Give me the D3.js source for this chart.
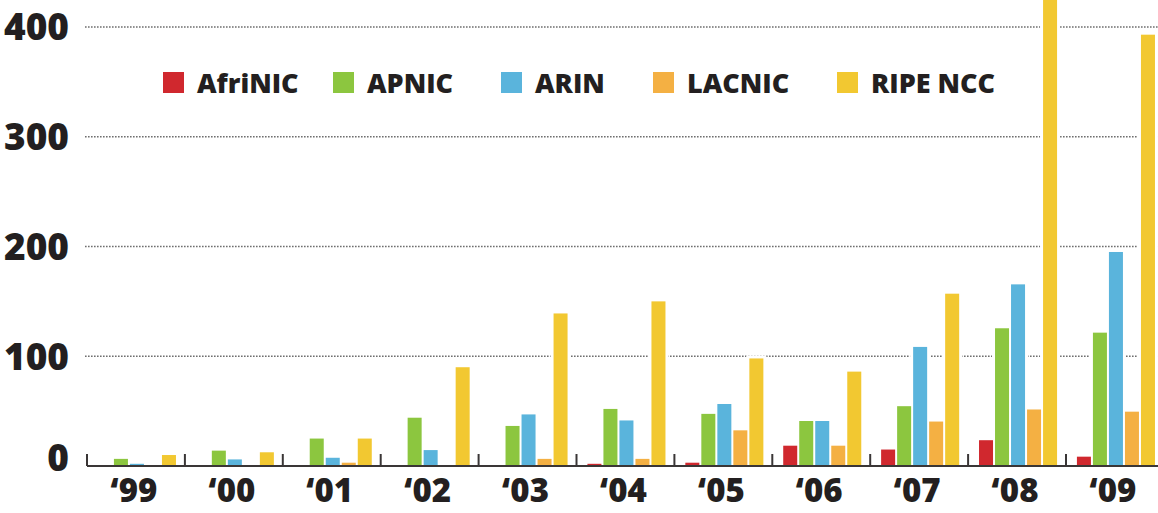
<!DOCTYPE html>
<html>
<head>
<meta charset="utf-8">
<script src="https://cdn.jsdelivr.net/npm/d3@7"></script>
<style>
  html, body { margin: 0; padding: 0; background: #fff; }
  svg { display: block; }
  text { font-family: "Open Sans", "DejaVu Sans", sans-serif; font-weight: 800; fill: #231f20; }
</style>
</head>
<body>
<svg id="chart" width="1158" height="513"></svg>
<script>
// ---- data ----
const years = ["‘99", "‘00", "‘01", "‘02", "‘03", "‘04", "‘05", "‘06", "‘07", "‘08", "‘09"];
const series = ["AfriNIC", "APNIC", "ARIN", "LACNIC", "RIPE NCC"];
const afrinic = [0, 0, 0, 0.6, 0.6, 2, 3, 18.5, 15, 23.5, 8.5];
const apnic   = [6.5, 14, 25, 44, 36.5, 52, 47.5, 41, 54.5, 125.5, 121.5];
const arin    = [2, 6, 7.5, 14.5, 47, 41.5, 56.5, 41, 108.5, 165.5, 195];
const lacnic  = [0.6, 0.6, 3, 0, 6.5, 6.5, 32.5, 18.5, 40.5, 51.5, 49.5];
const ripe    = [10, 12.5, 25, 90, 139, 150, 98, 86, 157, 445, 393];
const yTicks  = [0, 100, 200, 300, 400];
const colors  = ["#d0282e", "#8cc63f", "#5ab4dc", "#f4b043", "#f2c831"];

const valuesBySeries = [afrinic, apnic, arin, lacnic, ripe];

// ---- layout ----
const svg = d3.select("#chart");
const x0 = 87, groupW = 97.9;
const x = d3.scaleBand().domain(years).range([x0, x0 + groupW * years.length]).padding(0);
const xs = d3.scaleBand().domain(series).range([0, x.bandwidth()]).paddingInner(0.125).paddingOuter(0.62).align(0.55);
const y = d3.scaleLinear().domain([0, 400]).range([466, 27]);
const color = d3.scaleOrdinal().domain(series).range(colors);

// gridlines
svg.append("g").selectAll("line")
  .data(yTicks.filter(d => d > 0))
  .join("line")
  .attr("x1", 85).attr("x2", 1158)
  .attr("y1", d => y(d)).attr("y2", d => y(d))
  .attr("stroke", "#6f6f6f").attr("stroke-width", 1.6)
  .attr("stroke-dasharray", "1.6,1.4");

// y labels
svg.append("g").selectAll("text")
  .data(yTicks)
  .join("text")
  .attr("x", 69)
  .attr("y", d => y(d) + (d === 0 ? -8 : 0))
  .attr("dy", "0.36em")
  .attr("text-anchor", "end")
  .style("font-size", "37px")
  .text(d => d);

// bar data
const bars = [];
years.forEach((yr, i) => {
  series.forEach((s, j) => {
    bars.push({ year: yr, series: s, value: valuesBySeries[j][i] });
  });
});

// white halos (break gridlines around bars)
svg.append("g").selectAll("rect")
  .data(bars.filter(d => d.value > 0))
  .join("rect")
  .attr("x", d => x(d.year) + xs(d.series) - 3)
  .attr("width", xs.bandwidth() + 6)
  .attr("y", d => y(d.value) - 3)
  .attr("height", d => Math.max(0, y(0) - y(d.value) + 2))
  .attr("fill", "#fff");

// bars
svg.append("g").selectAll("rect")
  .data(bars)
  .join("rect")
  .attr("x", d => x(d.year) + xs(d.series))
  .attr("width", xs.bandwidth())
  .attr("y", d => y(d.value))
  .attr("height", d => y(0) - y(d.value))
  .attr("fill", d => color(d.series));

// baseline axis
const gAxis = svg.append("g").attr("transform", `translate(0,${y(0)})`);
gAxis.append("line")
  .attr("x1", x0).attr("x2", 1158)
  .attr("stroke", "#3a3636").attr("stroke-width", 2);
gAxis.selectAll("line.tick")
  .data(years)
  .join("line")
  .attr("class", "tick")
  .attr("x1", d => x(d)).attr("x2", d => x(d))
  .attr("y1", 0).attr("y2", -12)
  .attr("stroke", "#3a3636").attr("stroke-width", 2);
gAxis.selectAll("text.xl")
  .data(years)
  .join("text")
  .attr("class", "xl")
  .attr("x", d => x(d) + x.bandwidth() / 2 - 2)
  .attr("y", 36)
  .attr("text-anchor", "middle")
  .style("font-size", "33px")
  .text(d => d);

// legend
const legendX = [163, 333, 501, 653, 837];
const lg = svg.append("g").selectAll("g")
  .data(series)
  .join("g")
  .attr("transform", (d, i) => `translate(${legendX[i]},72)`);
lg.append("rect")
  .attr("width", 21).attr("height", 21)
  .attr("fill", d => color(d));
lg.append("text")
  .attr("x", 34).attr("y", 21)
  .style("font-size", "27px")
  .text(d => d);
</script>
</body>
</html>
